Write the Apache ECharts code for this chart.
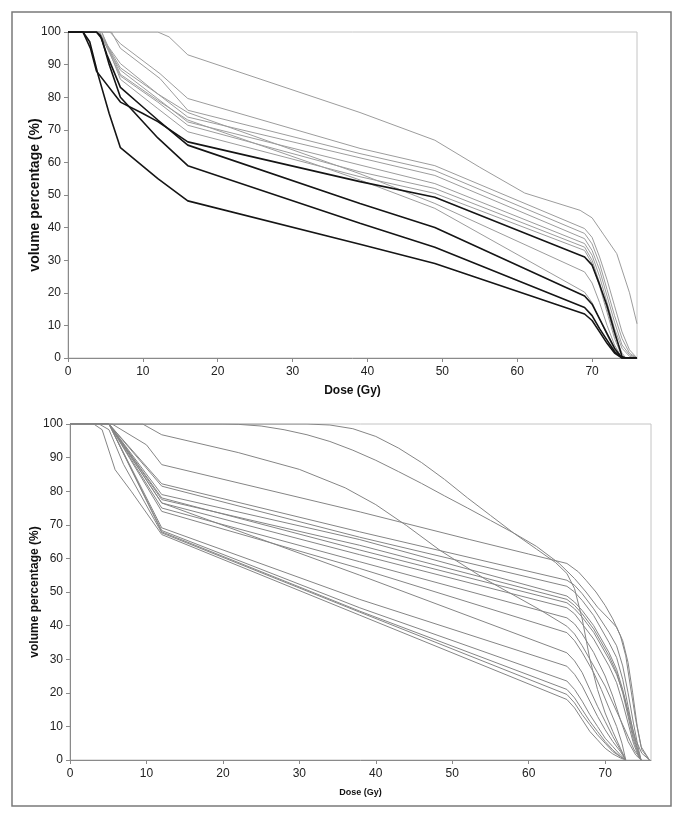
<!DOCTYPE html>
<html>
<head>
<meta charset="utf-8">
<script src="https://cdn.jsdelivr.net/npm/echarts@6/dist/echarts.min.js"></script>
<style>
html,body{margin:0;padding:0;background:#fff;}
#chart{width:685px;height:825px;}
</style>
</head>
<body>
<div id="chart"></div>
<script>
// ---------- Tick labels ----------
var xTicks = [0, 10, 20, 30, 40, 50, 60, 70];
var yTicks = [0, 10, 20, 30, 40, 50, 60, 70, 80, 90, 100];
var xTitle = 'Dose (Gy)';
var yTitle = 'volume percentage (%)';

// ---------- Top panel: grey curves [dose, volume%] ----------
var topGray0 = [[0,100],[12,100],[13.5,98.5],[16,93],[39,75.3],[49,66.8],[55,58.5],[61,50.6],[68.4,45.3],[70,43],[71.5,38],[73.3,32],[75,20],[76,10.5]];
var topGray1 = [[0,100],[5.6,100],[7,96.4],[12.3,87.2],[16,79.6],[39,64.3],[49,59],[69,39.7],[70,37],[71,31],[72,24],[73,16],[74,8],[75,2.5],[76,0]];
var topGray2 = [[0,100],[5.8,100],[7,95],[12.3,85.7],[16,76],[39,62.7],[49,57.5],[69,38.2],[70,35],[71,29],[72,21],[73,13],[74,6],[75,1.5],[76,0]];
var topGray3 = [[0,100],[4,100],[7,90.3],[12,81],[16,73.9],[39,61.4],[49,56],[69,36.6],[70,33],[71,27],[72,19],[73,11],[74,4],[75,1],[76,0]];
var topGray4 = [[0,100],[4,100],[7,88.3],[12,79.5],[16,72.4],[39,59.2],[49,53.5],[69,35.1],[70,31.5],[71,25],[72,17],[73,9],[74,3],[75,0.5],[76,0]];
var topGray5 = [[0,100],[4.2,100],[7,86.5],[12,78.5],[16,71.4],[39,57.1],[49,52],[69,34],[70,30],[71,23],[72,15],[73,7],[74,1.5],[74.5,0],[76,0]];
var topGray6 = [[0,100],[4.5,100],[7,85.5],[12,76.5],[16,69.4],[39,55.6],[49,50.5],[69,33],[70,29],[71,22],[72,14],[73,6],[74,0.5],[74.5,0],[76,0]];
var topGray7 = [[0,100],[4.2,100],[7,89],[12,81],[16,75.3],[39,56.5],[49,47.4],[69,26.4],[70,23],[71,17],[72,10],[73,4],[74,0],[76,0]];
var topGray8 = [[0,100],[4.5,100],[7,87],[12,79],[16,73],[39,54.6],[49,45.9],[69,20.2],[70,17],[71,12],[72,7],[73,2.5],[74,0],[76,0]];

// ---------- Top panel: black curves ----------
var topBlack1 = [[0,100],[2,100],[3,95],[3.8,88],[7,78.5],[10,75],[12,72.5],[16,66.3],[39,54.1],[49,49.3],[69,31],[70,28.5],[71,22.5],[72,16],[73,8],[74,0.5],[74.5,0],[76,0]];
var topBlack2 = [[0,100],[3.8,100],[4.3,99],[5.2,93],[7,83],[10,77],[12,73],[16,65.3],[39,47.4],[49,40],[69,19],[70,16.5],[71,12],[72,7.5],[73,3],[74,0],[76,0]];
var topBlack3 = [[0,100],[3.8,100],[4.5,98],[5.5,90],[7,80],[12,67.5],[16,59],[39,41.3],[49,34],[69,15.5],[70,13],[71,9],[72,5.5],[73,2],[74,0],[76,0]];
var topBlack4 = [[0,100],[2,100],[2.9,97],[4,87],[5.5,75],[7,64.5],[12,55],[16,48.2],[39,34.9],[49,29],[69,13.5],[70,11.5],[71,8],[72,4.5],[73,1.5],[74,0],[76,0]];

// ---------- Bottom panel curves ----------
var bot01 = [[0,100],[9.5,100],[12,96.8],[22,91.5],[30,86.5],[36,81],[40,76],[44,69.8],[48.4,62.4],[54.4,53.7],[61.4,44.8],[65,39.8],[66,37.5],[67,34],[68,30],[69,26],[70,22],[71,17],[72,12],[73,7],[73.8,3],[74.7,0]];
var bot02 = [[0,100],[20,100],[22,99.9],[25,99.4],[28,98.3],[31,96.8],[34,94.8],[37,92.2],[40,89.2],[43,85.8],[46,82.3],[49,78.6],[52,75],[55,71.3],[58,67.6],[61,63.6],[64,58.5],[66,54],[67.5,50],[69,45.5],[70.5,42],[71.5,39.5],[72.3,35.5],[73,29],[73.6,20],[74.2,10],[74.8,3],[75.8,0]];
var bot03 = [[0,100],[31,100],[34,99.7],[37,98.6],[40,96.3],[43,92.8],[46,88.5],[49,83.5],[52,78],[55,72.8],[58,67.6],[61,62.8],[63.5,58.8],[65,55.5],[66,51],[67,42],[68,30],[69,21],[70,14],[71,8.5],[72,3.5],[72.7,0]];
var bot04 = [[0,100],[5.5,100],[10,93.8],[12,87.9],[38,73.8],[52.3,65.6],[60,61.3],[65,58.5],[66.5,56],[67.5,53.5],[68.8,50],[70,46],[71,42],[72,37],[72.7,31],[73.3,22],[74,12],[74.7,4],[75.8,0]];
var bot05 = [[0,100],[5.1,100],[12,82.2],[37.9,67.9],[65,53.5],[66,52],[67,49.5],[68.5,45],[70.5,38],[71.5,34],[72.3,28],[73,20],[73.7,11],[74.3,4],[74.7,0]];
var bot06 = [[0,100],[5.1,100],[12,81.5],[37.9,66.3],[65,51.7],[66,50],[67,47.5],[68.5,43],[70.5,35],[71.5,30.5],[72.3,24],[73,16],[73.7,8],[74.3,3],[74.7,0]];
var bot07 = [[0,100],[5.1,100],[12,79],[37.9,65.6],[65,48.8],[66,47],[67,44.5],[68.5,40],[70.5,32],[71.5,27],[72.3,21],[73,14],[73.7,7],[74.3,2.5],[74.7,0]];
var bot08 = [[0,100],[5.1,100],[12,77.5],[37.9,63.9],[65,47.8],[66,46],[67,43.5],[68.5,39],[70.5,31],[71.5,26],[72.3,20],[73,13],[73.7,6],[74.3,2],[74.7,0]];
var bot09 = [[0,100],[5.1,100],[12,78],[37.9,62.5],[65,46.8],[66,45],[67,42.5],[68.5,38],[70.5,30],[71.5,25.5],[72.5,19],[73.3,12],[74,6],[74.8,2],[75.8,0]];
var bot10 = [[0,100],[5.1,100],[12,76.5],[37.9,61.1],[65,45.3],[66,43.5],[67,40.5],[68.5,36],[70.5,28],[71.5,23],[72.3,17],[73,11],[73.7,5],[74.3,1.5],[74.7,0]];
var bot11 = [[0,100],[5.1,100],[12,75],[37.9,59],[65,42.3],[66,40.5],[67,37.5],[68.5,32],[70,25],[71,19],[72,12],[73,5.5],[74,1.5],[74.7,0]];
var bot12 = [[0,100],[5.1,100],[12,74],[37.9,57],[65,37.9],[66,35.5],[67,32],[68.5,26],[69.5,21],[70.5,15.5],[71.5,10],[72.2,5],[72.7,0]];
var bot13 = [[0,100],[5.1,100],[12,76.5],[37.9,55],[65,31.9],[66,29.5],[67,26],[68,21],[69,16],[70,11.5],[71,7],[72,3],[72.7,0]];
var bot14 = [[0,100],[5.1,100],[12,69.1],[37.9,47.8],[65,27.9],[66,25.5],[67,22],[68,17.5],[69,13],[70,9],[71,5.5],[72,2.5],[72.7,0]];
var bot15 = [[0,100],[5.1,100],[12,68.3],[37.9,45.3],[65,23.5],[66,21],[67,17.5],[68,13.5],[69,10],[70,6.5],[71,4],[72,1.5],[72.7,0]];
var bot16 = [[0,100],[5.1,100],[12,67.9],[37.9,44.3],[65,21],[66,18.5],[67,15],[68,11.5],[69,8.5],[70,5.5],[71,3],[72,1],[72.7,0]];
var bot17 = [[0,100],[3.8,100],[5.1,98.3],[7,88],[12,67.6],[37.9,44],[65,19.5],[66,17],[67,13.5],[68,10.5],[69,7.5],[70,5],[71,2.5],[72,1],[72.7,0]];
var bot18 = [[0,100],[3.1,100],[4.2,98.3],[5.9,86.4],[8,80],[12,67.1],[37.9,43.1],[65,18],[66,15.5],[67,12],[68,8.5],[69,6],[70,3.5],[71,1.8],[72,0.6],[72.7,0]];

var topGrayList = [topGray0, topGray1, topGray2, topGray3, topGray4, topGray5, topGray6, topGray7, topGray8];
var topBlackList = [topBlack1, topBlack2, topBlack3, topBlack4];
var bottomList = [bot01, bot02, bot03, bot04, bot05, bot06, bot07, bot08, bot09, bot10, bot11, bot12, bot13, bot14, bot15, bot16, bot17, bot18];

var FONT = "'Liberation Sans', Arial, sans-serif";

function makeX(gridIndex, nameSize, gap) {
  return {
    type: 'value', gridIndex: gridIndex, min: 0, max: 76, interval: 10,
    name: xTitle, nameLocation: 'middle', nameGap: gap, nameMoveOverlap: false,
    nameTextStyle: {fontFamily: FONT, fontWeight: 'bold', fontSize: nameSize, color: '#111'},
    axisLine: {show: true, lineStyle: {color: '#8a8a8a', width: 1}},
    axisTick: {show: true, length: 4, lineStyle: {color: '#8a8a8a'}, customValues: xTicks},
    axisLabel: {fontFamily: FONT, fontSize: 12, color: '#222', margin: 8, customValues: xTicks},
    splitLine: {show: false}
  };
}
function makeY(gridIndex, nameSize, gap) {
  return {
    type: 'value', gridIndex: gridIndex, min: 0, max: 100, interval: 10,
    name: yTitle, nameLocation: 'middle', nameGap: gap, nameRotate: 90, nameMoveOverlap: false,
    nameTextStyle: {fontFamily: FONT, fontWeight: 'bold', fontSize: nameSize, color: '#111'},
    axisLine: {show: true, lineStyle: {color: '#8a8a8a', width: 1}},
    axisTick: {show: true, length: 4, lineStyle: {color: '#8a8a8a'}, customValues: yTicks},
    axisLabel: {fontFamily: FONT, fontSize: 12, color: '#222', margin: 7, customValues: yTicks},
    splitLine: {show: false}
  };
}

var series = [];
topGrayList.forEach(function (d) {
  series.push({type: 'line', xAxisIndex: 0, yAxisIndex: 0, data: d, showSymbol: false, silent: true,
    lineStyle: {color: '#9c9c9c', width: 1}, z: 2});
});
topBlackList.forEach(function (d) {
  series.push({type: 'line', xAxisIndex: 0, yAxisIndex: 0, data: d, showSymbol: false, silent: true,
    lineStyle: {color: '#151515', width: 1.6}, z: 3});
});
bottomList.forEach(function (d) {
  series.push({type: 'line', xAxisIndex: 1, yAxisIndex: 1, data: d, showSymbol: false, silent: true,
    lineStyle: {color: '#858585', width: 1}, z: 2});
});

var chart = echarts.init(document.getElementById('chart'), null, {renderer: 'canvas'});
chart.setOption({
  animation: false,
  backgroundColor: '#fff',
  grid: [
    {left: 68, top: 32, width: 569, height: 326, show: true, borderColor: '#c4c4c4', borderWidth: 1, containLabel: false},
    {left: 70, top: 424, width: 581, height: 336, show: true, borderColor: '#c4c4c4', borderWidth: 1, containLabel: false}
  ],
  xAxis: [makeX(0, 12, 27), makeX(1, 9, 28)],
  yAxis: [makeY(0, 14, 26), makeY(1, 12, 29)],
  graphic: [{
    type: 'rect', shape: {x: 12, y: 12, width: 659, height: 794},
    style: {fill: 'none', stroke: '#7a7a7a', lineWidth: 1.5}, silent: true
  }],
  series: series
});
</script>
</body>
</html>
